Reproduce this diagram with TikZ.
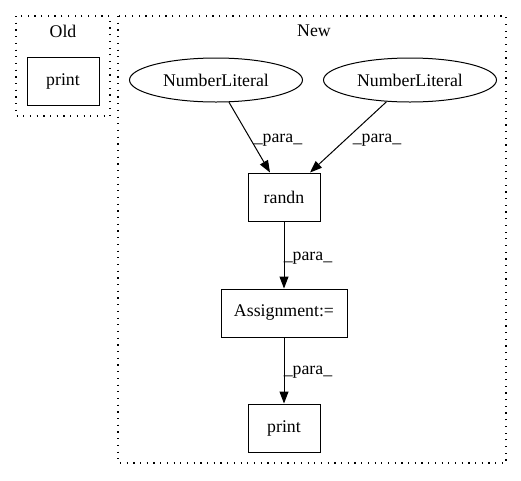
\documentclass[tikz,border=0pt]{standalone}
\usepackage{fontspec}
\setmainfont{Liberation Serif}
\usetikzlibrary{arrows.meta,shapes.geometric}
\begin{document}
\begin{tikzpicture}[x=1pt,y=-1pt,
  every node/.style={font=\fontsize{17.8}{20}\selectfont},
  cluster/.style={draw,line width=1.2pt,dash pattern=on 1.2pt off 5.5pt},
  boxnode/.style={draw,rectangle,inner sep=0pt,line width=1pt},
  ellnode/.style={draw,ellipse,inner sep=0pt,line width=1pt,minimum width=173pt,minimum height=44pt},
  edge/.style={draw,line width=1pt,-{Triangle[length=12pt,width=9pt]}},
  lbl/.style={inner sep=0pt}]
\useasboundingbox (0,0) rectangle (521,480);
\draw[cluster] (16,16) rectangle (110,116);
\node[lbl] (oldlbl) at (63,31) {Old};
\node[boxnode,minimum width=72pt,minimum height=48pt] (oprint) at (63,81) {print};
\draw[cluster] (118,16) rectangle (506,463);
\node[lbl] (newlbl) at (314,31) {New};
\node[ellnode] (n1) at (216,80) {NumberLiteral};
\node[ellnode] (n2) at (410,80) {NumberLiteral};
\node[boxnode,minimum width=72pt,minimum height=48pt] (randn) at (284,197) {randn};
\node[boxnode,minimum width=126pt,minimum height=48pt] (assign) at (284,313) {Assignment:=};
\node[boxnode,minimum width=72pt,minimum height=48pt] (print) at (284,428) {print};
\draw[edge] (n1) -- (randn.north -| 270,0);
\draw[edge] (n2) -- (randn.north -| 310,0);
\draw[edge] (randn) -- (assign);
\draw[edge] (assign) -- (print);
\node[lbl] (l1) at (278,140) {\_para\_};
\node[lbl] (l2) at (377,140) {\_para\_};
\node[lbl] (l3) at (308,258) {\_para\_};
\node[lbl] (l4) at (308,372) {\_para\_};
\end{tikzpicture}
\end{document}
